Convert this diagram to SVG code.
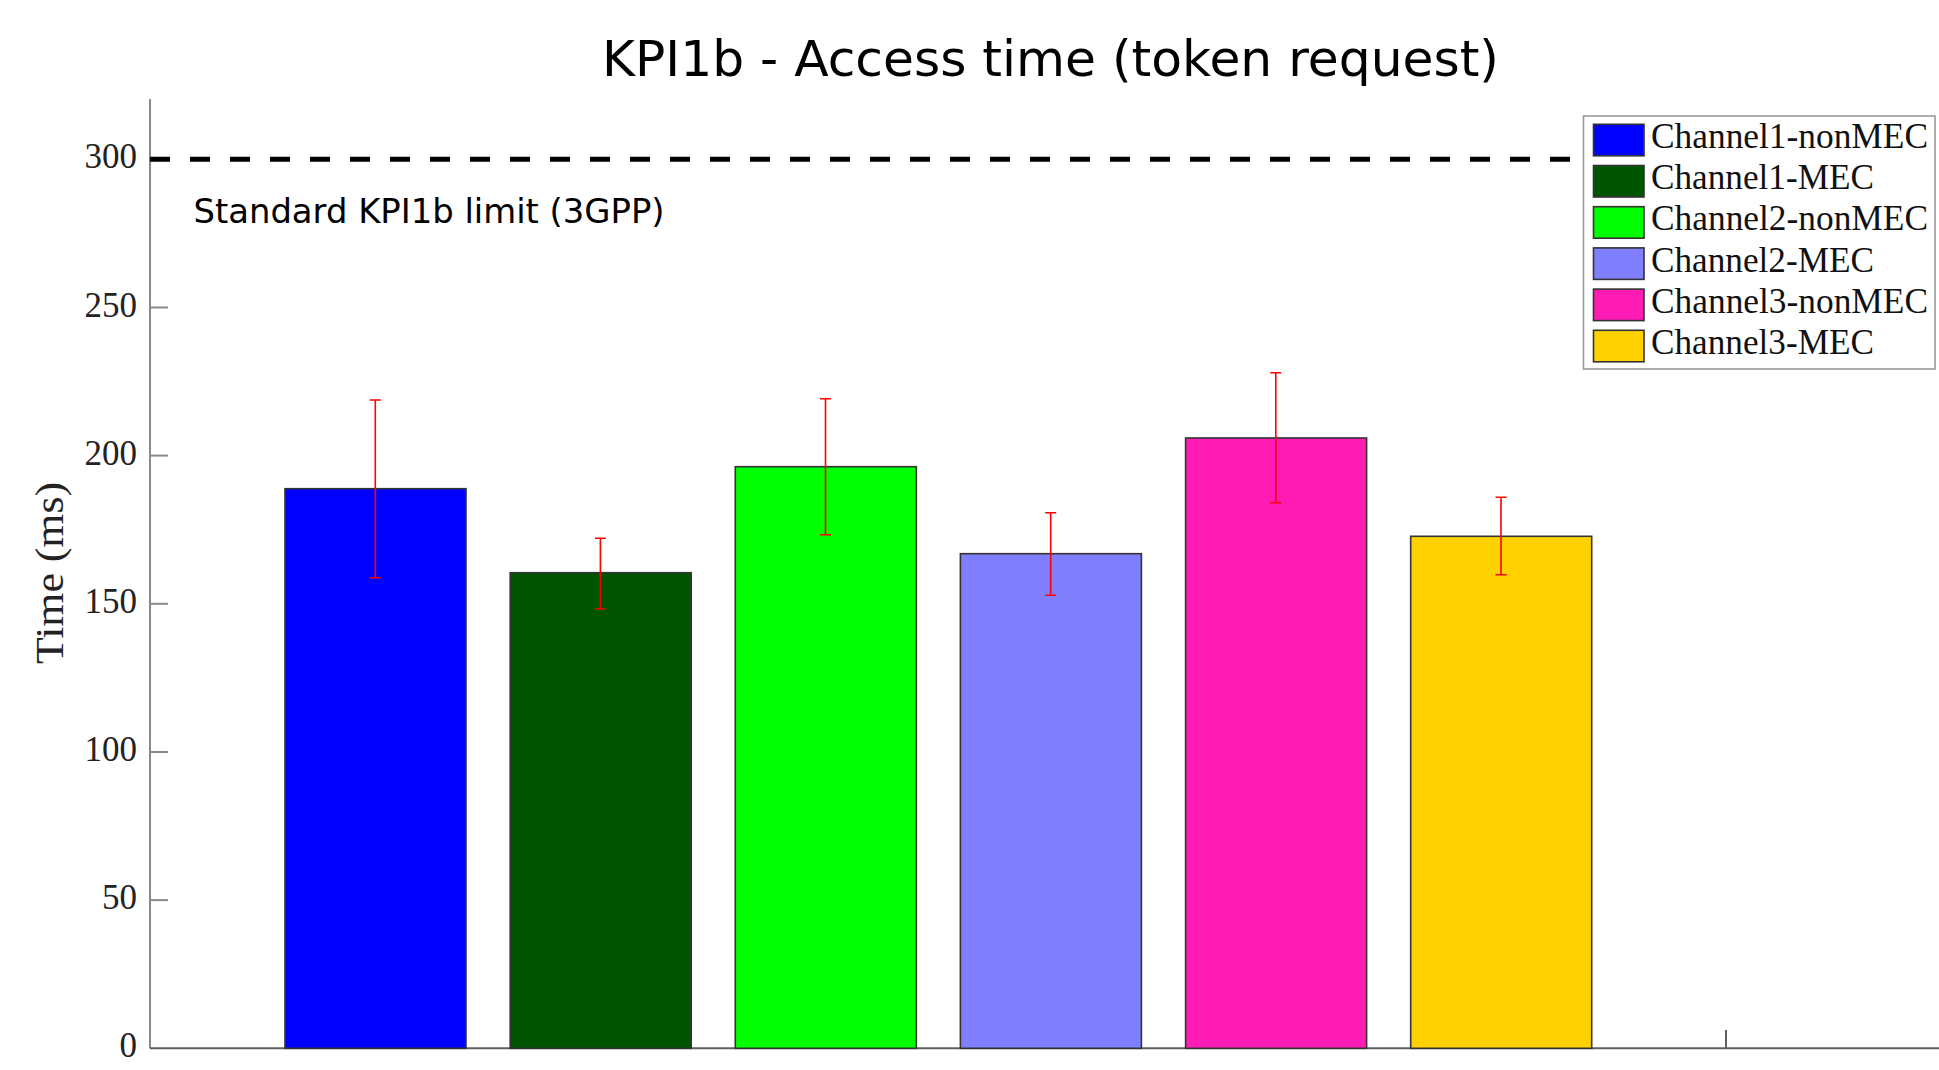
<svg xmlns="http://www.w3.org/2000/svg" width="1939" height="1070" viewBox="0 0 1939 1070">
<style>
.bar{stroke:#333;stroke-width:1.6}
.err{stroke:#ff0000;stroke-width:1.6;fill:none}
.tick{font-family:"Liberation Serif","DejaVu Serif",serif;font-size:35px;fill:#222;text-anchor:end}
.leg{font-family:"Liberation Serif","DejaVu Serif",serif;font-size:35px;fill:#111}
.sw{stroke:#333;stroke-width:1.6}
.sans{font-family:"DejaVu Sans","Liberation Sans",sans-serif;fill:#000}
</style>
<rect width="1939" height="1070" fill="#fff"/>
<g id="axes">
<line x1="150" y1="99" x2="150" y2="1048.3" stroke="#8a8a8a" stroke-width="2"/>
<line x1="150" y1="1048.3" x2="1939" y2="1048.3" stroke="#606060" stroke-width="2"/>
<g stroke="#8a8a8a" stroke-width="2">
<line x1="150" y1="900.1" x2="168" y2="900.1"/>
<line x1="150" y1="752" x2="168" y2="752"/>
<line x1="150" y1="603.8" x2="168" y2="603.8"/>
<line x1="150" y1="455.6" x2="168" y2="455.6"/>
<line x1="150" y1="307.5" x2="168" y2="307.5"/>
</g>
<line x1="1726" y1="1048.3" x2="1726" y2="1030" stroke="#606060" stroke-width="2"/>
<text class="tick" x="137" y="1057.3">0</text>
<text class="tick" x="137" y="909.1">50</text>
<text class="tick" x="137" y="761">100</text>
<text class="tick" x="137" y="612.8">150</text>
<text class="tick" x="137" y="464.6">200</text>
<text class="tick" x="137" y="316.5">250</text>
<text class="tick" x="137" y="168.3">300</text>
<text transform="translate(63,573) rotate(-90)" text-anchor="middle" font-family="Liberation Serif, DejaVu Serif, serif" font-size="40" textLength="182" lengthAdjust="spacingAndGlyphs" fill="#222">Time (ms)</text>
</g>
<g id="title">
<text class="sans" x="1050.5" y="76" text-anchor="middle" font-size="50" textLength="897" lengthAdjust="spacingAndGlyphs">KPI1b - Access time (token request)</text>
</g>
<g id="bars">
<rect id="bar1" class="bar" x="285" y="488.7" width="181" height="559.6" fill="#0000ff"/>
<rect id="bar2" class="bar" x="510.2" y="572.7" width="181" height="475.6" fill="#005500"/>
<rect id="bar3" class="bar" x="735.3" y="466.7" width="181" height="581.6" fill="#00ff00"/>
<rect id="bar4" class="bar" x="960.4" y="553.7" width="181" height="494.6" fill="#8080ff"/>
<rect id="bar5" class="bar" x="1185.6" y="438" width="181" height="610.3" fill="#ff1cb4"/>
<rect id="bar6" class="bar" x="1410.7" y="536.3" width="181" height="512" fill="#ffd100"/>
</g>
<g id="errorbars">
<path class="err" d="M375.3 400V577.7M369.8 400H380.8M369.8 577.7H380.8"/>
<path class="err" d="M600.4 538.3V609M594.9 538.3H605.9M594.9 609H605.9"/>
<path class="err" d="M825.5 398.7V534.7M820 398.7H831M820 534.7H831"/>
<path class="err" d="M1050.7 512.7V595.3M1045.2 512.7H1056.2M1045.2 595.3H1056.2"/>
<path class="err" d="M1275.8 372.7V502.7M1270.3 372.7H1281.3M1270.3 502.7H1281.3"/>
<path class="err" d="M1501 497.3V574.7M1495.5 497.3H1506.5M1495.5 574.7H1506.5"/>
</g>
<g id="limit">
<line x1="150" y1="159.3" x2="1939" y2="159.3" stroke="#000" stroke-width="5" stroke-dasharray="20 20"/>
<text class="sans" x="193.5" y="223.3" font-size="34" textLength="471" lengthAdjust="spacingAndGlyphs">Standard KPI1b limit (3GPP)</text>
</g>
<g id="legend">
<rect x="1583.5" y="116" width="351.5" height="253" fill="#fff" stroke="#999" stroke-width="1.6"/>
<rect class="sw" x="1593.5" y="124.3" width="50.5" height="31.5" fill="#0000ff"/>
<rect class="sw" x="1593.5" y="165.5" width="50.5" height="31.5" fill="#005500"/>
<rect class="sw" x="1593.5" y="206.7" width="50.5" height="31.5" fill="#00ff00"/>
<rect class="sw" x="1593.5" y="247.9" width="50.5" height="31.5" fill="#8080ff"/>
<rect class="sw" x="1593.5" y="289.1" width="50.5" height="31.5" fill="#ff1cb4"/>
<rect class="sw" x="1593.5" y="330.3" width="50.5" height="31.5" fill="#ffd100"/>
<text class="leg" x="1651" y="148" textLength="277" lengthAdjust="spacingAndGlyphs">Channel1-nonMEC</text>
<text class="leg" x="1651" y="189.2" textLength="223" lengthAdjust="spacingAndGlyphs">Channel1-MEC</text>
<text class="leg" x="1651" y="230.4" textLength="277" lengthAdjust="spacingAndGlyphs">Channel2-nonMEC</text>
<text class="leg" x="1651" y="271.6" textLength="223" lengthAdjust="spacingAndGlyphs">Channel2-MEC</text>
<text class="leg" x="1651" y="312.8" textLength="277" lengthAdjust="spacingAndGlyphs">Channel3-nonMEC</text>
<text class="leg" x="1651" y="354" textLength="223" lengthAdjust="spacingAndGlyphs">Channel3-MEC</text>
</g>
</svg>
